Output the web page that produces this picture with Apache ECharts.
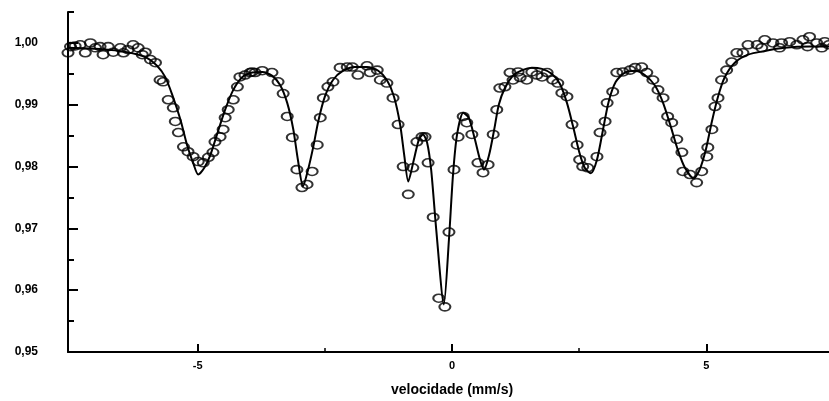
<!DOCTYPE html>
<html>
<head>
<meta charset="utf-8">
<script src="https://cdn.jsdelivr.net/npm/echarts@6/dist/echarts.min.js"></script>
<style>html,body{margin:0;padding:0;background:#fff}#c{width:829px;height:401px}</style>
</head>
<body>
<div id="c"></div>
<script>
// measured spectrum (velocity mm/s, relative transmission)
const pointsX = [-7.55,-7.50,-7.41,-7.31,-7.21,-7.11,-7.01,-6.92,-6.86,-6.76,-6.66,-6.52,-6.46,-6.37,-6.27,-6.17,-6.09,-6.03,-5.93,-5.83,-5.74,-5.68,-5.58,-5.48,-5.44,-5.38,-5.28,-5.19,-5.09,-4.99,-4.89,-4.79,-4.70,-4.66,-4.56,-4.50,-4.46,-4.40,-4.30,-4.22,-4.17,-4.07,-3.97,-3.93,-3.87,-3.73,-3.54,-3.42,-3.32,-3.24,-3.14,-3.05,-2.95,-2.85,-2.75,-2.65,-2.59,-2.53,-2.44,-2.34,-2.20,-2.06,-1.96,-1.85,-1.67,-1.61,-1.47,-1.41,-1.28,-1.16,-1.06,-0.96,-0.86,-0.77,-0.69,-0.59,-0.53,-0.47,-0.37,-0.26,-0.14,-0.06,0.04,0.12,0.22,0.29,0.39,0.51,0.61,0.71,0.81,0.88,0.94,1.04,1.14,1.20,1.30,1.34,1.47,1.57,1.67,1.77,1.87,1.98,2.08,2.16,2.26,2.36,2.46,2.51,2.57,2.67,2.85,2.91,3.01,3.05,3.16,3.24,3.36,3.50,3.60,3.73,3.83,3.95,4.05,4.15,4.24,4.32,4.42,4.52,4.54,4.68,4.81,4.91,5.01,5.03,5.11,5.17,5.23,5.30,5.40,5.50,5.60,5.72,5.82,6.00,6.09,6.15,6.31,6.44,6.48,6.64,6.78,6.90,6.99,7.03,7.17,7.27,7.33,7.41];
const pointsY = [0.9984,0.9994,0.9995,0.9997,0.9984,1.0000,0.9992,0.9994,0.9981,0.9994,0.9985,0.9992,0.9984,0.9989,0.9997,0.9992,0.9981,0.9985,0.9973,0.9968,0.9940,0.9937,0.9908,0.9895,0.9873,0.9855,0.9832,0.9824,0.9816,0.9808,0.9806,0.9815,0.9823,0.9840,0.9848,0.9860,0.9879,0.9892,0.9908,0.9929,0.9945,0.9948,0.9952,0.9953,0.9952,0.9955,0.9952,0.9937,0.9918,0.9881,0.9847,0.9795,0.9766,0.9771,0.9792,0.9835,0.9879,0.9911,0.9929,0.9937,0.9960,0.9961,0.9961,0.9948,0.9963,0.9952,0.9956,0.9940,0.9935,0.9911,0.9868,0.9800,0.9755,0.9798,0.9840,0.9848,0.9848,0.9806,0.9718,0.9587,0.9573,0.9694,0.9795,0.9848,0.9881,0.9871,0.9852,0.9806,0.9790,0.9803,0.9852,0.9892,0.9927,0.9929,0.9952,0.9940,0.9953,0.9944,0.9940,0.9953,0.9948,0.9945,0.9952,0.9940,0.9935,0.9919,0.9913,0.9868,0.9835,0.9811,0.9800,0.9798,0.9816,0.9855,0.9873,0.9903,0.9921,0.9952,0.9953,0.9956,0.9960,0.9961,0.9952,0.9940,0.9924,0.9911,0.9881,0.9871,0.9844,0.9823,0.9792,0.9787,0.9774,0.9792,0.9816,0.9831,0.9860,0.9897,0.9911,0.9940,0.9956,0.9969,0.9984,0.9984,0.9997,0.9997,0.9992,1.0005,1.0000,0.9992,1.0000,1.0002,0.9997,1.0005,0.9994,1.0010,1.0000,0.9992,1.0002,0.9997];

// fitted curve
const fitX = [-7.54,-6.92,-6.39,-6.03,-5.80,-5.64,-5.50,-5.34,-5.21,-5.09,-4.99,-4.87,-4.75,-4.62,-4.46,-4.30,-4.13,-3.93,-3.73,-3.54,-3.38,-3.24,-3.12,-3.03,-2.93,-2.83,-2.73,-2.63,-2.50,-2.34,-2.14,-1.91,-1.67,-1.45,-1.28,-1.14,-1.02,-0.94,-0.86,-0.75,-0.65,-0.57,-0.49,-0.41,-0.31,-0.16,-0.06,0.02,0.10,0.22,0.33,0.45,0.55,0.63,0.73,0.83,0.92,1.04,1.20,1.38,1.57,1.77,1.96,2.12,2.26,2.38,2.50,2.61,2.73,2.85,2.97,3.08,3.22,3.40,3.60,3.79,3.99,4.15,4.30,4.44,4.58,4.75,4.87,4.99,5.11,5.23,5.36,5.56,5.82,6.15,6.54,7.03,7.55];
const fitY = [0.9992,0.9990,0.9985,0.9977,0.9963,0.9945,0.9916,0.9876,0.9835,0.9806,0.9787,0.9798,0.9819,0.9852,0.9892,0.9924,0.9944,0.9952,0.9953,0.9947,0.9932,0.9903,0.9860,0.9811,0.9768,0.9795,0.9831,0.9873,0.9913,0.9940,0.9955,0.9961,0.9961,0.9955,0.9940,0.9913,0.9868,0.9819,0.9776,0.9811,0.9844,0.9852,0.9839,0.9795,0.9698,0.9577,0.9682,0.9787,0.9852,0.9887,0.9879,0.9844,0.9811,0.9795,0.9819,0.9860,0.9900,0.9927,0.9947,0.9956,0.9960,0.9958,0.9950,0.9934,0.9903,0.9865,0.9824,0.9798,0.9789,0.9811,0.9860,0.9905,0.9937,0.9952,0.9955,0.9948,0.9931,0.9903,0.9865,0.9827,0.9798,0.9781,0.9795,0.9827,0.9873,0.9913,0.9944,0.9968,0.9981,0.9987,0.9992,0.9994,0.9994];

const xMajorTicks = [-5, 0, 5];
const xMinorTicks = [-2.5, 2.5];
const yMajorTicks = [0.95, 0.96, 0.97, 0.98, 0.99, 1.00];
const yMinorTicks = [0.955, 0.965, 0.975, 0.985, 0.995, 1.005];
const xTitle = 'velocidade (mm/s)';

const font = 'Liberation Sans, Arial, sans-serif';
const chart = echarts.init(document.getElementById('c'), null, {renderer: 'canvas'});
const common = {min: -7.55, max: 7.55};
chart.setOption({
  animation: false,
  backgroundColor: '#fff',
  grid: {left: 68, right: -7, top: 12, bottom: 49, containLabel: false, outerBoundsMode: 'none'},
  xAxis: [
    {
      type: 'value', min: common.min, max: common.max,
      axisLine: {show: true, onZero: false, lineStyle: {color: '#000', width: 2}},
      axisTick: {show: true, inside: true, length: 8, lineStyle: {color: '#000', width: 2}, customValues: xMajorTicks},
      axisLabel: {show: true, customValues: xMajorTicks, margin: 8, color: '#000', fontFamily: font, fontWeight: 'bold', fontSize: 11,
        formatter: v => String(v)},
      splitLine: {show: false},
      name: xTitle, nameLocation: 'middle', nameGap: 31,
      nameTextStyle: {color: '#000', fontFamily: font, fontWeight: 'bold', fontSize: 14}
    },
    {
      type: 'value', min: common.min, max: common.max, position: 'bottom',
      axisLine: {show: false, onZero: false},
      axisTick: {show: true, inside: true, length: 4, lineStyle: {color: '#000', width: 1.5}, customValues: xMinorTicks},
      axisLabel: {show: false}, splitLine: {show: false}
    }
  ],
  yAxis: [
    {
      type: 'value', min: 0.95, max: 1.005,
      axisLine: {show: true, onZero: false, lineStyle: {color: '#000', width: 2}},
      axisTick: {show: true, inside: true, length: 10, lineStyle: {color: '#000', width: 2}, customValues: yMajorTicks},
      axisLabel: {show: true, customValues: yMajorTicks, margin: 30, color: '#000', fontFamily: font, fontWeight: 'bold', fontSize: 12,
        formatter: v => v.toFixed(2).replace('.', ',')},
      splitLine: {show: false}
    },
    {
      type: 'value', min: 0.95, max: 1.005, position: 'left',
      axisLine: {show: false, onZero: false},
      axisTick: {show: true, inside: true, length: 6, lineStyle: {color: '#000', width: 2}, customValues: yMinorTicks},
      axisLabel: {show: false}, splitLine: {show: false}
    }
  ],
  series: [
    {
      type: 'scatter', xAxisIndex: 0, yAxisIndex: 0,
      data: pointsX.map((x, i) => [x, pointsY[i]]),
      symbol: 'circle', symbolSize: [11, 8],
      itemStyle: {color: 'rgba(255,255,255,0)', borderColor: '#000', borderWidth: 1.8},
      clip: false, z: 2
    },
    {
      type: 'line', xAxisIndex: 0, yAxisIndex: 0,
      data: fitX.map((x, i) => [x, fitY[i]]),
      showSymbol: false, smooth: 0.25,
      lineStyle: {color: '#000', width: 2},
      clip: true, z: 3
    }
  ]
});
</script>
</body>
</html>
